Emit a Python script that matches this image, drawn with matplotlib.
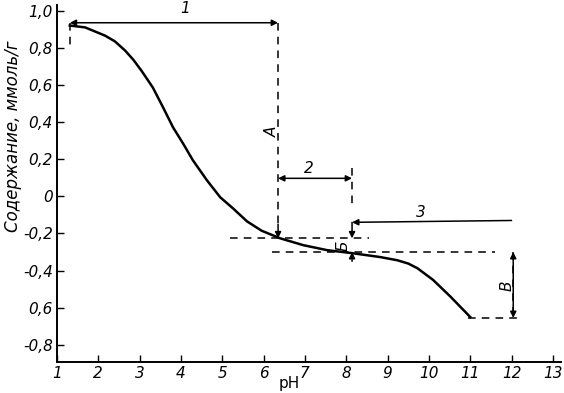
import matplotlib.pyplot as plt
import numpy as np

# curve
ph = [1.31, 1.68, 2.16, 2.4, 2.65, 2.85, 3.05, 3.32, 3.57, 3.81, 4.05, 4.29, 4.63, 4.95,
      5.26, 5.6, 5.95, 6.4, 6.96, 7.54, 8.14, 8.82, 9.23, 9.5, 9.72, 10.1, 10.52, 11.0]
content = [0.92, 0.91, 0.866, 0.835, 0.785, 0.735, 0.675, 0.586, 0.478, 0.371, 0.285, 0.194, 0.086,
           -0.005, -0.065, -0.135, -0.185, -0.226, -0.263, -0.29, -0.306, -0.327, -0.344, -0.362,
           -0.387, -0.45, -0.54, -0.65]

xticks = list(range(1, 14))
yticks = [1.0, 0.8, 0.6, 0.4, 0.2, 0.0, -0.2, -0.4, -0.6, -0.8]
ytick_labels = ['1,0', '0,8', '0,6', '0,4', '0,2', '0', '-0,2', '-0,4', '0,6', '-0,8']

# marker levels
ph_a = 6.35
ph_b = 8.14
ph_v = 12.04
top_level = 0.935
level_2 = 0.097
level_3 = -0.14
upper_dash = -0.226
lower_dash = -0.30
bottom_dash = -0.655

plt.rcParams['font.family'] = 'DejaVu Sans'
fig = plt.figure(figsize=(5.64, 3.93), dpi=100)
ax = fig.add_axes([0.101, 0.079, 0.894, 0.908])

ax.plot(ph, content, color='black', lw=1.8)

ax.set_xlim(1, 13.2)
ax.set_ylim(-0.892, 1.03)
ax.spines['top'].set_visible(False)
ax.spines['right'].set_visible(False)
ax.spines['left'].set_linewidth(1.4)
ax.spines['bottom'].set_linewidth(1.4)
ax.set_xticks(xticks)
ax.set_xticklabels([str(t) for t in xticks], style='italic', fontsize=11)
ax.set_yticks(yticks)
ax.set_yticklabels(ytick_labels, style='italic', fontsize=11)
ax.tick_params(direction='in', length=5, width=1, pad=3)
ax.set_ylabel('Содержание, ммоль/г', style='italic', fontsize=12)
ax.yaxis.set_label_coords(-0.07, 0.633)
ax.set_xlabel('pH', fontsize=11)
ax.xaxis.set_label_coords(0.46, -0.04)

dash = dict(color='black', lw=1.1, ls=(0, (5, 4)))
both = dict(arrowstyle='<|-|>', color='black', lw=1.1, mutation_scale=9, shrinkA=0, shrinkB=0)
one = dict(arrowstyle='-|>', color='black', lw=1.1, mutation_scale=9, shrinkA=0, shrinkB=0)

# 1 and A
ax.annotate('', xy=(1.31, top_level), xytext=(ph_a, top_level), arrowprops=both)
ax.plot([1.31, 1.31], [top_level, 0.81], **dash)
ax.text(4.1, 0.97, '1', style='italic', fontsize=11, ha='center', va='bottom')
ax.plot([ph_a, ph_a], [top_level, -0.15], **dash)
ax.annotate('', xy=(ph_a, upper_dash), xytext=(ph_a, -0.15), arrowprops=one)
ax.text(6.2, 0.35, 'А', style='italic', fontsize=11, rotation=90, ha='center', va='center')

# 2
ax.annotate('', xy=(ph_a, level_2), xytext=(ph_b, level_2), arrowprops=both)
ax.plot([ph_b, ph_b], [0.15, -0.05], **dash)
ax.text(7.1, 0.11, '2', style='italic', fontsize=11, ha='center', va='bottom')

# 3
ax.annotate('', xy=(ph_b, level_3), xytext=(12.0, level_3 + 0.01), arrowprops=one)
ax.text(9.8, -0.13, '3', style='italic', fontsize=11, ha='center', va='bottom')

# dashed levels
ax.plot([5.18, 8.55], [upper_dash, upper_dash], **dash)
ax.plot([6.2, 11.6], [lower_dash, lower_dash], **dash)
ax.plot([10.95, 12.2], [bottom_dash, bottom_dash], **dash)

# Б
ax.annotate('', xy=(ph_b, upper_dash), xytext=(ph_b, level_3), arrowprops=one)
ax.annotate('', xy=(ph_b, lower_dash), xytext=(ph_b, -0.35), arrowprops=one)
ax.text(7.92, -0.265, 'Б', style='italic', fontsize=11, rotation=90, ha='center', va='center')

# В
ax.annotate('', xy=(ph_v, lower_dash), xytext=(ph_v, bottom_dash), arrowprops=both)
ax.plot([ph_v, ph_v], [lower_dash, bottom_dash], **dash)
ax.text(11.88, -0.48, 'В', style='italic', fontsize=11, rotation=90, ha='center', va='center')

fig.savefig('out.png', dpi=100)
